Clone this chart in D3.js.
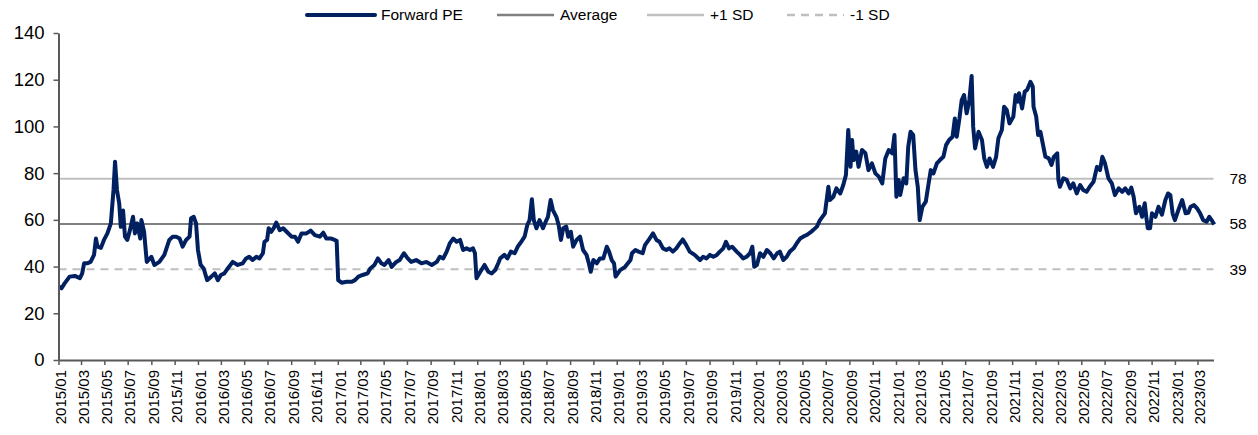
<!DOCTYPE html>
<html>
<head>
<meta charset="utf-8">
<script src="https://cdn.jsdelivr.net/npm/d3@7"></script>
<style>
  body { margin: 0; background: #fff; }
  .axis path, .axis line { stroke: #595959; stroke-width: 2px; }
  .axis text { fill: #000; font-family: "Liberation Sans", Arial, sans-serif; }
  .legend text, .level-label { font-family: "Liberation Sans", Arial, sans-serif; fill: #000; }
</style>
</head>
<body>
<div class="chart"></div>
<script>
// Forward PE series
var dates = [
  "2015-01-02","2015-01-09","2015-01-17","2015-01-30","2015-02-13","2015-02-26","2015-03-04","2015-03-09","2015-03-17","2015-03-26",
  "2015-04-04","2015-04-09","2015-04-13","2015-04-22","2015-04-30","2015-05-09","2015-05-18","2015-05-25","2015-05-29","2015-06-03",
  "2015-06-09","2015-06-13","2015-06-19","2015-06-24","2015-06-30","2015-07-07","2015-07-15","2015-07-20","2015-07-26","2015-08-03",
  "2015-08-06","2015-08-13","2015-08-20","2015-09-01","2015-09-09","2015-09-22","2015-10-05","2015-10-18","2015-10-27","2015-11-05",
  "2015-11-14","2015-11-22","2015-12-01","2015-12-10","2015-12-14","2015-12-21","2015-12-27","2016-01-01","2016-01-08","2016-01-16",
  "2016-01-25","2016-02-05","2016-02-14","2016-02-22","2016-03-01","2016-03-10","2016-03-19","2016-04-01","2016-04-14","2016-04-27",
  "2016-05-06","2016-05-14","2016-05-23","2016-06-02","2016-06-10","2016-06-19","2016-06-23","2016-06-30","2016-07-04","2016-07-11",
  "2016-07-17","2016-07-24","2016-08-02","2016-08-11","2016-08-20","2016-09-02","2016-09-11","2016-09-19","2016-09-28","2016-10-11",
  "2016-10-22","2016-11-02","2016-11-15","2016-11-24","2016-12-02","2016-12-15","2016-12-24","2016-12-29","2017-01-02","2017-01-11",
  "2017-01-24","2017-02-07","2017-02-15","2017-02-24","2017-03-07","2017-03-20","2017-03-27","2017-04-07","2017-04-16","2017-04-25",
  "2017-05-03","2017-05-14","2017-05-22","2017-06-03","2017-06-12","2017-06-23","2017-07-03","2017-07-12","2017-07-25","2017-08-08",
  "2017-08-21","2017-09-04","2017-09-17","2017-09-25","2017-10-04","2017-10-13","2017-10-21","2017-10-30","2017-11-08","2017-11-17",
  "2017-11-25","2017-12-04","2017-12-13","2017-12-21","2017-12-26","2017-12-30","2018-01-09","2018-01-20","2018-01-30","2018-02-08",
  "2018-02-17","2018-02-25","2018-03-02","2018-03-13","2018-03-21","2018-03-30","2018-04-09","2018-04-17","2018-04-26","2018-05-05",
  "2018-05-12","2018-05-18","2018-05-24","2018-05-29","2018-06-05","2018-06-13","2018-06-22","2018-07-01","2018-07-05","2018-07-12",
  "2018-07-18","2018-07-27","2018-08-02","2018-08-08","2018-08-14","2018-08-22","2018-08-27","2018-09-03","2018-09-09","2018-09-18",
  "2018-09-27","2018-10-05","2018-10-14","2018-10-20","2018-10-25","2018-11-01","2018-11-10","2018-11-18","2018-11-27","2018-12-06",
  "2018-12-12","2018-12-19","2018-12-25","2018-12-29","2019-01-10","2019-01-23","2019-02-06","2019-02-10","2019-02-19","2019-02-27",
  "2019-03-10","2019-03-16","2019-03-28","2019-04-06","2019-04-15","2019-04-23","2019-05-02","2019-05-11","2019-05-19","2019-05-28",
  "2019-06-06","2019-06-15","2019-06-23","2019-07-02","2019-07-11","2019-07-24","2019-08-07","2019-08-15","2019-08-24","2019-09-02",
  "2019-09-11","2019-09-20","2019-09-28","2019-10-07","2019-10-14","2019-10-22","2019-10-30","2019-11-11","2019-11-20","2019-11-28",
  "2019-12-07","2019-12-16","2019-12-22","2019-12-27","2020-01-03","2020-01-11","2020-01-20","2020-01-29","2020-02-07","2020-02-16",
  "2020-02-25","2020-03-03","2020-03-12","2020-03-21","2020-03-29","2020-04-08","2020-04-16","2020-04-25","2020-05-03","2020-05-12",
  "2020-05-21","2020-05-29","2020-06-08","2020-06-16","2020-06-29","2020-07-08","2020-07-12","2020-07-21","2020-07-29","2020-08-08",
  "2020-08-16","2020-08-23","2020-08-29","2020-09-04","2020-09-08","2020-09-12","2020-09-19","2020-09-25","2020-10-04","2020-10-13",
  "2020-10-21","2020-10-30","2020-11-08","2020-11-17","2020-11-26","2020-12-04","2020-12-13","2020-12-22","2020-12-28","2021-01-02",
  "2021-01-08","2021-01-12","2021-01-21","2021-01-28","2021-02-02","2021-02-08","2021-02-15","2021-02-21","2021-02-27","2021-03-04",
  "2021-03-11","2021-03-20","2021-03-26","2021-04-02","2021-04-09","2021-04-18","2021-04-26","2021-05-05","2021-05-12","2021-05-20",
  "2021-05-29","2021-06-04","2021-06-09","2021-06-16","2021-06-22","2021-06-28","2021-07-05","2021-07-12","2021-07-18","2021-07-22",
  "2021-07-27","2021-08-05","2021-08-14","2021-08-20","2021-08-27","2021-09-03","2021-09-12","2021-09-20","2021-09-26","2021-10-05",
  "2021-10-11","2021-10-18","2021-10-25","2021-11-04","2021-11-10","2021-11-16","2021-11-19","2021-11-27","2021-12-04","2021-12-10",
  "2021-12-19","2021-12-25","2021-12-27","2022-01-03","2022-01-08","2022-01-14","2022-01-20","2022-01-27","2022-02-05","2022-02-12",
  "2022-02-18","2022-02-27","2022-03-02","2022-03-06","2022-03-15","2022-03-24","2022-04-02","2022-04-10","2022-04-19","2022-04-28",
  "2022-05-06","2022-05-15","2022-05-23","2022-06-02","2022-06-11","2022-06-19","2022-06-25","2022-07-02","2022-07-11","2022-07-20",
  "2022-07-28","2022-08-07","2022-08-16","2022-08-24","2022-09-02","2022-09-09","2022-09-15","2022-09-21","2022-09-30","2022-10-07",
  "2022-10-14","2022-10-18","2022-10-22","2022-10-28","2022-11-02","2022-11-11","2022-11-19","2022-11-28","2022-12-07","2022-12-14",
  "2022-12-20","2022-12-26","2023-01-01","2023-01-10","2023-01-20","2023-01-29","2023-02-05","2023-02-11","2023-02-20","2023-02-28",
  "2023-03-08","2023-03-16","2023-03-25","2023-04-01","2023-04-07","2023-04-14"
];
var peValues = [
  31.4,30.7,32.8,35.7,36.0,35.0,37.1,41.4,41.4,42.0,
  45.0,52.0,48.5,48.0,51.4,54.2,58.5,72.8,84.9,72.8,
  67.0,57.0,64.0,52.8,51.4,55.6,61.3,54.2,58.5,52.0,
  59.9,54.9,42.0,44.2,40.7,42.0,45.0,51.4,52.8,52.8,
  52.0,48.5,51.4,52.8,60.7,61.3,58.5,47.1,40.7,39.2,
  34.2,35.7,37.1,34.2,36.4,37.1,39.2,42.0,40.7,41.4,
  43.5,44.2,42.8,44.2,43.5,45.7,50.6,51.4,56.4,54.9,
  56.4,58.8,55.6,56.4,54.9,52.8,52.8,50.6,54.2,54.2,
  55.4,53.5,52.8,54.5,52.0,52.0,51.4,51.0,34.2,33.1,
  33.5,33.5,34.2,35.7,36.4,37.1,39.2,40.7,43.5,41.4,
  40.7,42.8,39.9,42.0,42.8,45.7,43.5,42.0,42.8,41.4,
  42.0,40.7,42.0,44.2,43.5,46.4,49.9,52.0,50.6,51.4,
  47.1,47.8,47.1,47.8,45.7,35.0,37.8,40.7,37.8,37.1,
  38.5,41.4,43.5,45.0,43.5,46.4,45.7,48.5,50.6,52.8,
  57.8,59.9,68.8,59.9,56.4,59.9,56.4,59.9,61.3,68.5,
  64.2,61.3,57.8,51.4,56.4,57.1,52.8,54.9,48.5,51.4,
  52.8,47.1,45.0,41.4,37.8,42.8,41.4,43.5,43.5,48.5,
  46.4,42.8,41.4,35.7,38.5,39.9,42.8,45.7,47.1,46.4,
  45.7,49.2,52.0,54.2,51.4,50.6,47.8,47.1,47.8,46.4,
  47.8,49.9,51.6,49.2,46.4,45.0,42.8,44.2,43.5,45.0,
  44.2,45.0,46.4,47.8,50.6,47.8,48.5,46.4,45.0,43.5,
  44.2,45.7,48.5,39.9,40.7,45.7,44.2,47.1,45.7,43.5,
  45.7,46.4,42.8,44.2,46.4,47.8,49.9,52.0,52.8,53.5,
  54.5,55.6,57.1,59.9,62.8,74.2,68.5,69.9,73.5,71.3,
  74.9,79.2,98.5,82.7,94.2,85.6,89.2,82.7,89.9,88.5,
  81.3,84.2,79.9,78.5,75.6,86.3,89.9,88.5,96.3,69.9,
  77.1,70.6,77.8,75.6,91.3,97.7,96.3,81.3,74.2,59.9,
  65.6,67.8,74.2,81.3,79.9,84.2,85.6,87.0,92.0,94.2,
  95.6,103.4,95.6,103.4,111.3,113.4,105.6,111.3,121.6,99.9,
  90.6,97.7,94.2,86.3,82.7,86.3,82.7,87.0,94.9,98.5,
  108.4,107.0,101.3,104.1,113.4,110.6,114.2,107.7,114.9,115.6,
  119.1,117.0,108.4,104.1,96.3,97.7,92.8,87.0,86.3,83.5,
  87.0,88.5,77.1,74.2,77.8,77.1,73.5,75.6,71.3,74.9,
  72.8,72.0,74.2,76.3,82.7,81.3,87.0,84.2,77.8,75.6,
  70.6,73.5,72.0,73.5,71.3,73.8,69.9,62.8,65.6,61.3,
  67.1,61.3,56.4,56.4,62.8,61.3,65.6,62.2,68.5,71.3,
  70.6,62.8,59.9,64.2,68.5,62.8,63.0,65.6,66.3,64.9,
  62.8,59.9,59.2,61.3,59.9,58.0
];

// Reference levels
var avgValue = 58.2;
var plusSdValue = 77.6;
var minusSdValue = 38.8;

// Axis ticks
var yTicks = [0, 20, 40, 60, 80, 100, 120, 140];
var legendNames = ["Forward PE", "Average", "+1 SD", "-1 SD"];

var svgWidth = 1258;
var svgHeight = 435;
var margin = {top: 33, right: 44.5, bottom: 75, left: 58.5};
var chartWidth = svgWidth - margin.left - margin.right;
var chartHeight = svgHeight - margin.top - margin.bottom;

var parseDate = d3.timeParse("%Y-%m-%d");
var series = dates.map(function(d, i) {
  return {date: parseDate(d), value: peValues[i]};
});

var svg = d3.select(".chart")
  .append("svg")
  .attr("width", svgWidth)
  .attr("height", svgHeight);

var chart = svg.append("g")
  .attr("transform", `translate(${margin.left},${margin.top})`);

var xScale = d3.scaleTime()
  .domain([new Date(2015, 0, 1), new Date(2023, 3, 12)])
  .range([0, chartWidth]);
var yScale = d3.scaleLinear()
  .domain([0, 140])
  .range([chartHeight, 0]);

// reference lines
var levels = [
  {value: plusSdValue, color: "#bfbfbf", dash: null},
  {value: avgValue, color: "#808080", dash: null},
  {value: minusSdValue, color: "#bfbfbf", dash: "8,6"}
];

chart.selectAll(".level")
  .data(levels)
  .enter()
  .append("line")
  .attr("class", "level")
  .attr("x1", 0)
  .attr("x2", chartWidth)
  .attr("y1", function(d) { return yScale(d.value); })
  .attr("y2", function(d) { return yScale(d.value); })
  .attr("stroke", function(d) { return d.color; })
  .attr("stroke-width", 2)
  .attr("stroke-dasharray", function(d) { return d.dash; });

chart.selectAll(".level-label")
  .data(levels)
  .enter()
  .append("text")
  .attr("class", "level-label")
  .attr("x", chartWidth + 16)
  .attr("y", function(d) { return yScale(d.value); })
  .attr("dy", "0.35em")
  .style("font-size", "15.5px")
  .text(function(d) { return d3.format(".0f")(d.value); });

// the PE line
var line = d3.line()
  .x(function(d) { return xScale(d.date); })
  .y(function(d) { return yScale(d.value); });

chart.append("path")
  .datum(series)
  .attr("fill", "none")
  .attr("stroke", "#002060")
  .attr("stroke-width", 4)
  .attr("stroke-linejoin", "round")
  .attr("d", line);

// axes
var bottomAxis = d3.axisBottom(xScale)
  .ticks(d3.timeMonth.every(2))
  .tickFormat(d3.timeFormat("%Y/%m"))
  .tickSizeInner(5)
  .tickSizeOuter(0);
var leftAxis = d3.axisLeft(yScale)
  .tickValues(yTicks)
  .tickSizeInner(5)
  .tickSizeOuter(0)
  .tickPadding(9);

var xAxisG = chart.append("g")
  .attr("class", "axis")
  .attr("transform", `translate(0,${chartHeight})`)
  .call(bottomAxis);
xAxisG.selectAll("line").style("stroke-width", "1.5px");
xAxisG.selectAll("text")
  .style("font-size", "15px")
  .style("text-anchor", "end")
  .attr("transform", "rotate(-90)")
  .attr("x", -10)
  .attr("y", 2)
  .attr("dy", "0.35em");

var yAxisG = chart.append("g")
  .attr("class", "axis")
  .call(leftAxis);
yAxisG.selectAll("line").style("stroke-width", "1.5px");
yAxisG.selectAll("text").style("font-size", "18.5px");

// legend
var legendX = [307, 497, 647, 787];
var legendStyles = [
  {color: "#002060", width: 4, dash: null, len: 68},
  {color: "#808080", width: 2.5, dash: null, len: 57},
  {color: "#bfbfbf", width: 2.5, dash: null, len: 57},
  {color: "#bfbfbf", width: 2.5, dash: "8,6", len: 57}
];

var legend = svg.append("g").attr("class", "legend");
var items = legend.selectAll("g")
  .data(legendNames)
  .enter()
  .append("g")
  .attr("transform", function(d, i) { return `translate(${legendX[i]},15)`; });

items.append("line")
  .attr("x1", 0)
  .attr("x2", function(d, i) { return legendStyles[i].len; })
  .attr("stroke", function(d, i) { return legendStyles[i].color; })
  .attr("stroke-width", function(d, i) { return legendStyles[i].width; })
  .attr("stroke-linecap", function(d, i) { return i == 0 ? "round" : "butt"; })
  .attr("stroke-dasharray", function(d, i) { return legendStyles[i].dash; });

items.append("text")
  .attr("x", function(d, i) { return legendStyles[i].len + 6; })
  .attr("dy", "0.35em")
  .style("font-size", "15.5px")
  .text(function(d) { return d; });
</script>
</body>
</html>
